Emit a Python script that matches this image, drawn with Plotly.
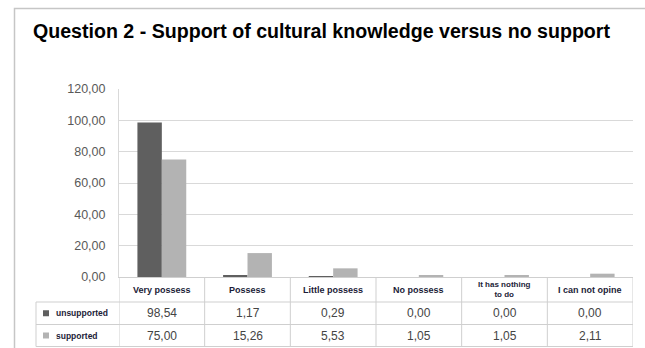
import plotly.graph_objects as go

# Survey answers (percent) for question 2
categories = ["Very possess", "Possess", "Little possess", "No possess",
              "It has nothing to do", "I can not opine"]
header_labels = ["Very possess", "Possess", "Little possess", "No possess",
                 "It has nothing<br>to do", "I can not opine"]
unsupported = [98.54, 1.17, 0.29, 0.00, 0.00, 0.00]
supported = [75.00, 15.26, 5.53, 1.05, 1.05, 2.11]
series_names = ["unsupported", "supported"]
series_colors = ["#5f5f5f", "#b3b3b3"]

W, H = 645, 348
L, R, T, B = 119, 633, 89, 277          # plot area in pixels
pw, ph = R - L, B - T


def px_x(x):
    return (x - L) / pw


def px_y(y):
    return (B - y) / ph


def fmt(v):
    return f"{v:.2f}".replace(".", ",")


fig = go.Figure()
for name, vals, col in zip(series_names, [unsupported, supported], series_colors):
    fig.add_trace(go.Bar(x=categories, y=vals, name=name, marker_color=col,
                         marker_line_width=0, showlegend=False))

grid = "#d9d9d9"
tline = "#cfcfcf"
shapes = []

# outer chart frame
shapes.append(dict(type="rect", xref="paper", yref="paper",
                   x0=px_x(14.5), x1=px_x(660), y0=px_y(8.5), y1=px_y(360),
                   line=dict(color="#c6c6c6", width=1.5), layer="below"))

# data table grid
row_y = [302, 324.5, 346.5]
for y in row_y:
    shapes.append(dict(type="line", xref="paper", yref="paper",
                       x0=px_x(36), x1=1, y0=px_y(y), y1=px_y(y),
                       line=dict(color=tline, width=1)))
shapes.append(dict(type="line", xref="paper", yref="paper",
                   x0=px_x(36), x1=px_x(36), y0=px_y(302), y1=px_y(346.5),
                   line=dict(color=tline, width=1)))
n = len(categories)
for i in range(n + 1):
    xv = i - 0.5
    shapes.append(dict(type="line", xref="x", yref="paper",
                       x0=xv, x1=xv, y0=0, y1=px_y(346.5),
                       line=dict(color=tline, width=1)))

annotations = []
# column headers
for i, lab in enumerate(header_labels):
    two = "<br>" in lab
    annotations.append(dict(xref="x", yref="paper", x=i, y=px_y(289.5),
                            text=f"<b>{lab}</b>", showarrow=False,
                            font=dict(family="Liberation Sans", size=8 if two else 9,
                                      color="#1c1c38"),
                            xanchor="center", yanchor="middle"))
# values
for r, vals in enumerate([unsupported, supported]):
    yc = px_y((row_y[r] + row_y[r + 1]) / 2)
    for i, v in enumerate(vals):
        annotations.append(dict(xref="x", yref="paper", x=i, y=yc,
                                text=fmt(v), showarrow=False,
                                font=dict(family="Liberation Sans", size=12,
                                          color="#444444"),
                                xanchor="center", yanchor="middle"))
    # legend key inside the table
    annotations.append(dict(xref="paper", yref="paper", x=px_x(54), y=yc,
                            text=f"<b>{series_names[r]}</b>", showarrow=False,
                            font=dict(family="Liberation Sans", size=8.5,
                                      color="#1c1c38"),
                            xanchor="left", yanchor="middle"))
    shapes.append(dict(type="rect", xref="paper", yref="paper",
                       x0=px_x(43), x1=px_x(49), y0=yc - 3 / ph, y1=yc + 3 / ph,
                       fillcolor=series_colors[r], line=dict(width=0)))

fig.update_layout(
    width=W, height=H,
    margin=dict(l=L, r=W - R, t=T, b=H - B, pad=0),
    paper_bgcolor="white", plot_bgcolor="white",
    barmode="group", bargap=0.43, bargroupgap=0,
    separators=",.",
    title=dict(text="<b>Question 2 - Support of cultural knowledge versus no support</b>",
               x=33 / W, xanchor="left", xref="container",
               y=1 - 31 / H, yanchor="middle", yref="container",
               font=dict(family="Liberation Sans", size=19.6, color="#000000")),
    xaxis=dict(showticklabels=False, showgrid=False, showline=True,
               linecolor=tline, linewidth=1, range=[-0.5, n - 0.5], fixedrange=True),
    yaxis=dict(range=[0, 120], dtick=20, tickformat=".2f", showgrid=True,
               gridcolor=grid, gridwidth=1, showline=True, linecolor=grid,
               zeroline=False, ticks="", ticklabelstandoff=10,
               tickfont=dict(family="Liberation Sans", size=12.5, color="#595959")),
    shapes=shapes, annotations=annotations,
)

fig.write_html("out.html")
